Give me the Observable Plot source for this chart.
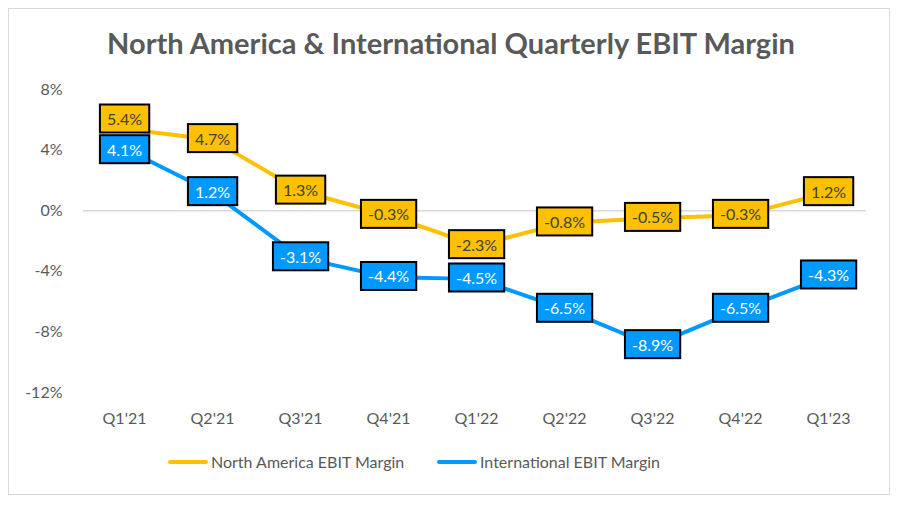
<!DOCTYPE html>
<html><head><meta charset="utf-8">
<script src="https://cdn.jsdelivr.net/npm/d3@7"></script>
<script src="https://cdn.jsdelivr.net/npm/@observablehq/plot@0.6"></script>
<style>
body{margin:0;background:#fff;font-family:Lato,"Open Sans",sans-serif;}
#wrap{position:relative;width:902px;height:508px;overflow:hidden;}
#frame{position:absolute;left:8px;top:8px;width:882px;height:487px;border:1.5px solid #d9d9d9;box-sizing:border-box;}
#title{position:absolute;left:0;top:25px;width:902px;text-align:center;font-weight:bold;font-size:29px;color:#595959;}
#chart{position:absolute;left:0;top:70px;}
#legend{position:absolute;top:452px;left:0;width:902px;font-size:16px;color:#595959;}
.lg{position:absolute;display:flex;align-items:center;}
.sw{width:40px;height:4px;border-radius:2px;margin-right:3px;}
</style></head>
<body><div id="wrap">
<div id="frame"></div>
<div id="title">North America &amp; International Quarterly EBIT Margin</div>
<div id="chart"></div>
<div id="legend"></div>
</div>
<script>
const quarters = ["Q1'21","Q2'21","Q3'21","Q4'21","Q1'22","Q2'22","Q3'22","Q4'22","Q1'23"];
const northAmerica = [5.4, 4.7, 1.3, -0.3, -2.3, -0.8, -0.5, -0.3, 1.2];
const international = [4.1, 1.2, -3.1, -4.4, -4.5, -6.5, -8.9, -6.5, -4.3];
const yTicks = [-12, -8, -4, 0, 4, 8];
const seriesNames = ["North America EBIT Margin", "International EBIT Margin"];
const colors = ["#FFC000", "#0099FF"];

const na = quarters.map((q, i) => ({q, v: northAmerica[i], i}));
const intl = quarters.map((q, i) => ({q, v: international[i], i}));
const fmt = v => v.toFixed(1) + "%";
const NA_TXT = "#404040", IN_TXT = "#ffffff";

const plot = Plot.plot({
  width: 902, height: 372,
  marginLeft: 80, marginRight: 30, marginTop: 19, marginBottom: 50,
  style: {fontFamily: "Lato, 'Open Sans', sans-serif", fontSize: "16px", color: "#595959", background: "transparent"},
  x: {type: "point", domain: quarters, padding: 0.5, label: null, tickSize: 0, tickPadding: 20},
  y: {domain: [-12, 8], ticks: yTicks, tickFormat: d => d + "%", label: null, tickSize: 0, tickPadding: 18},
  marks: [
    Plot.ruleY([0], {stroke: "#d9d9d9", strokeWidth: 1.5, insetLeft: 3, insetRight: 6}),
    Plot.line(na, {x: "q", y: "v", stroke: colors[0], strokeWidth: 4, strokeLinejoin: "round"}),
    Plot.line(intl, {x: "q", y: "v", stroke: colors[1], strokeWidth: 4, strokeLinejoin: "round"}),
    // first labels nudged apart so the two boxes do not collide (as in the original)
    Plot.text(na, {filter: d => d.i === 0, x: "q", y: "v", dy: -9, text: d => fmt(d.v), fill: NA_TXT, fontSize: 16}),
    Plot.text(na, {filter: d => d.i > 0, x: "q", y: "v", text: d => fmt(d.v), fill: NA_TXT, fontSize: 16}),
    Plot.text(intl, {filter: d => d.i === 0, x: "q", y: "v", dy: 2, text: d => fmt(d.v), fill: IN_TXT, fontSize: 16}),
    Plot.text(intl, {filter: d => d.i > 0, x: "q", y: "v", text: d => fmt(d.v), fill: IN_TXT, fontSize: 16})
  ]
});
document.getElementById("chart").appendChild(plot);

const allTexts = [...plot.querySelectorAll("text")];
const fillOf = t => t.getAttribute("fill") || t.parentNode.getAttribute("fill");
[[NA_TXT, colors[0]], [IN_TXT, colors[1]]].forEach(([tc, col]) => {
  allTexts.filter(t => fillOf(t) === tc).forEach(t => {
    const b = t.getBBox();
    const r = document.createElementNS("http://www.w3.org/2000/svg", "rect");
    const px = 7, py = 4.5;
    r.setAttribute("x", b.x - px);
    r.setAttribute("y", b.y - py);
    r.setAttribute("width", b.width + 2 * px);
    r.setAttribute("height", b.height + 2 * py);
    r.setAttribute("fill", col);
    r.setAttribute("stroke", "#000");
    r.setAttribute("stroke-width", 2);
    const tr = t.getAttribute("transform");
    if (tr) r.setAttribute("transform", tr);
    t.parentNode.insertBefore(r, t);
  });
});

const legend = document.getElementById("legend");
const lx = [168, 437];
seriesNames.forEach((n, i) => {
  const d = document.createElement("div");
  d.className = "lg";
  d.style.left = lx[i] + "px";
  d.innerHTML = `<div class="sw" style="background:${colors[i]}"></div><span>${n}</span>`;
  legend.appendChild(d);
});
</script>
</body></html>
